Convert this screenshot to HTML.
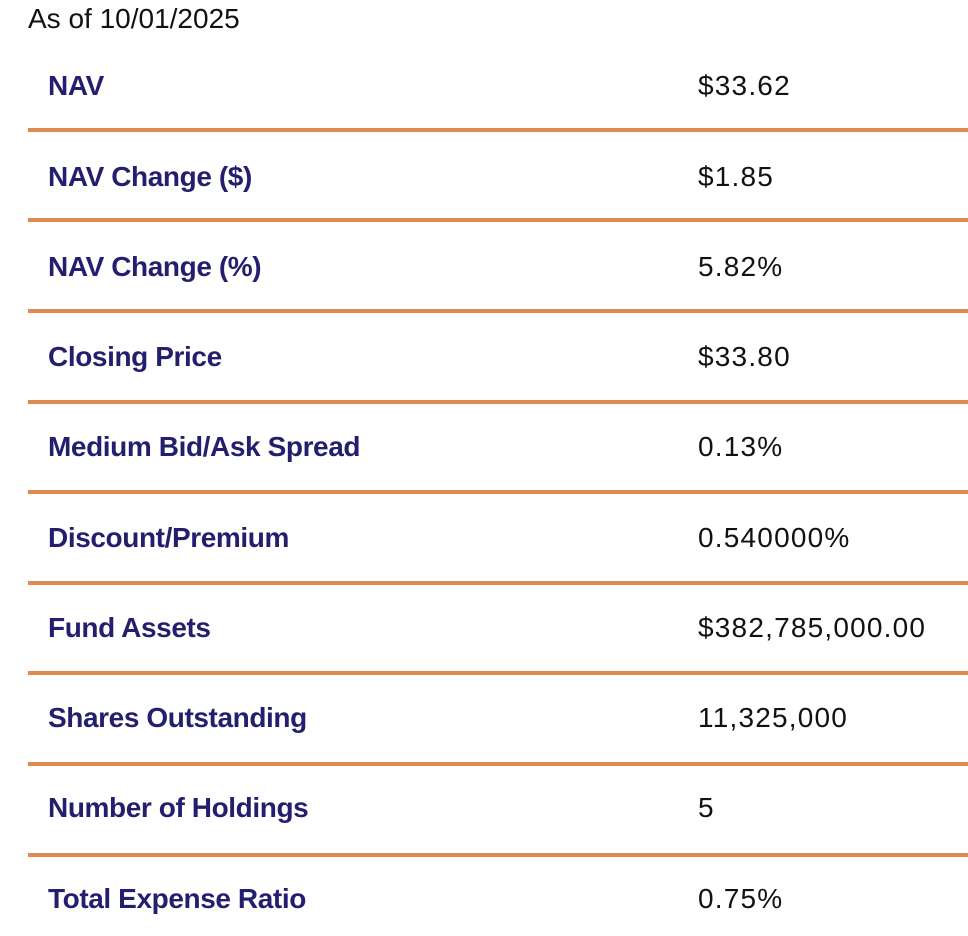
<!DOCTYPE html>
<html><head><style>
body{margin:0;width:968px;height:936px;background:#fff;position:relative;overflow:hidden;font-family:"Liberation Sans",sans-serif;}
.t{position:absolute;font-size:28px;line-height:32px;white-space:nowrap;}
.h{left:28px;top:3px;color:#111;}
.l{left:48px;color:#231f6e;font-weight:bold;letter-spacing:-0.4px;}
.v{left:698px;color:#111;letter-spacing:1.2px;}
.ln{position:absolute;left:28px;width:940px;height:4px;background:#e08a4e;}
</style></head><body>
<div class="t h">As of 10/01/2025</div>
<div class="t l" style="top:70px">NAV</div><div class="t v" style="top:70px">$33.62</div>
<div class="ln" style="top:128px"></div>
<div class="t l" style="top:161px">NAV Change ($)</div><div class="t v" style="top:161px">$1.85</div>
<div class="ln" style="top:218px"></div>
<div class="t l" style="top:251px">NAV Change (%)</div><div class="t v" style="top:251px">5.82%</div>
<div class="ln" style="top:309px"></div>
<div class="t l" style="top:341px">Closing Price</div><div class="t v" style="top:341px">$33.80</div>
<div class="ln" style="top:400px"></div>
<div class="t l" style="top:431px">Medium Bid/Ask Spread</div><div class="t v" style="top:431px">0.13%</div>
<div class="ln" style="top:490px"></div>
<div class="t l" style="top:522px">Discount/Premium</div><div class="t v" style="top:522px">0.540000%</div>
<div class="ln" style="top:581px"></div>
<div class="t l" style="top:612px">Fund Assets</div><div class="t v" style="top:612px">$382,785,000.00</div>
<div class="ln" style="top:671px"></div>
<div class="t l" style="top:702px">Shares Outstanding</div><div class="t v" style="top:702px">11,325,000</div>
<div class="ln" style="top:762px"></div>
<div class="t l" style="top:792px">Number of Holdings</div><div class="t v" style="top:792px">5</div>
<div class="ln" style="top:853px"></div>
<div class="t l" style="top:883px">Total Expense Ratio</div><div class="t v" style="top:883px">0.75%</div>
</body></html>
